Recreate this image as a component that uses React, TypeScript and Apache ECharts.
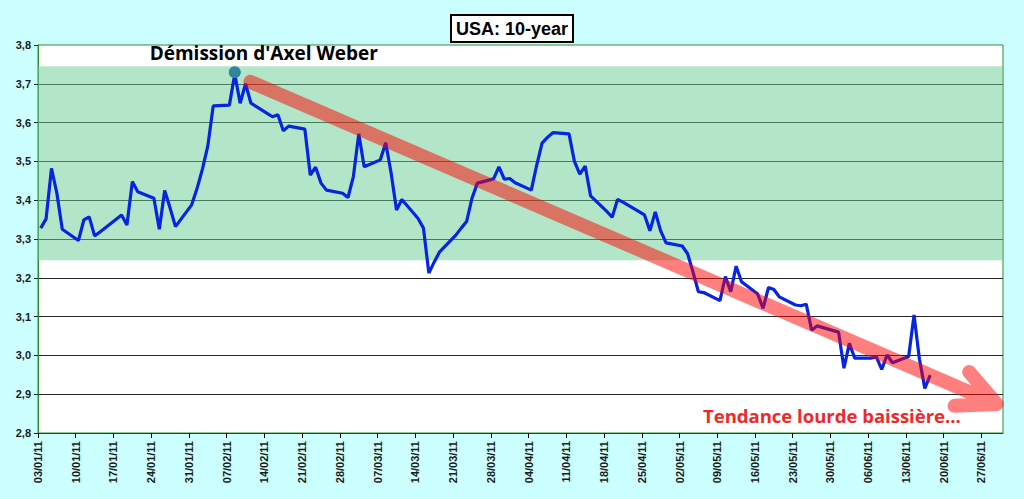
import { useEffect, useRef } from "react";
import * as echarts from "echarts";

// daily US 10-year yields (weekdays), dd/mm/yy
const DATES = [
  "03/01/11", "04/01/11", "05/01/11", "06/01/11", "07/01/11",
  "10/01/11", "11/01/11", "12/01/11", "13/01/11", "14/01/11",
  "18/01/11", "19/01/11", "20/01/11", "21/01/11",
  "24/01/11", "25/01/11", "26/01/11", "27/01/11", "28/01/11",
  "31/01/11", "01/02/11", "02/02/11", "03/02/11", "04/02/11",
  "07/02/11", "08/02/11", "09/02/11", "10/02/11", "11/02/11",
  "14/02/11", "15/02/11", "16/02/11", "17/02/11", "18/02/11",
  "21/02/11", "22/02/11", "23/02/11", "24/02/11", "25/02/11",
  "28/02/11", "01/03/11", "02/03/11", "03/03/11", "04/03/11",
  "07/03/11", "08/03/11", "09/03/11", "10/03/11", "11/03/11",
  "14/03/11", "15/03/11", "16/03/11", "17/03/11", "18/03/11",
  "21/03/11", "22/03/11", "23/03/11", "24/03/11", "25/03/11",
  "28/03/11", "29/03/11", "30/03/11", "31/03/11", "01/04/11",
  "04/04/11", "05/04/11", "06/04/11", "07/04/11", "08/04/11",
  "11/04/11", "12/04/11", "13/04/11", "14/04/11", "15/04/11",
  "18/04/11", "19/04/11", "20/04/11", "21/04/11",
  "25/04/11", "26/04/11", "27/04/11", "28/04/11", "29/04/11",
  "02/05/11", "03/05/11", "04/05/11", "05/05/11", "06/05/11",
  "09/05/11", "10/05/11", "11/05/11", "12/05/11", "13/05/11",
  "16/05/11", "17/05/11", "18/05/11", "19/05/11", "20/05/11",
  "23/05/11", "24/05/11", "25/05/11", "26/05/11", "27/05/11",
  "31/05/11", "01/06/11", "02/06/11", "03/06/11",
  "06/06/11", "07/06/11", "08/06/11", "09/06/11", "10/06/11",
  "13/06/11", "14/06/11", "15/06/11", "16/06/11", "17/06/11",
];

const YIELDS = [
  3.328, 3.352, 3.482, 3.418, 3.325,
  3.296, 3.349, 3.357, 3.308, 3.318,
  3.362, 3.336, 3.448, 3.422,
  3.405, 3.325, 3.425, 3.38, 3.332,
  3.388, 3.43, 3.48, 3.54, 3.643,
  3.645, 3.725, 3.65, 3.70, 3.65,
  3.624, 3.615, 3.62, 3.579, 3.591,
  3.583, 3.465, 3.485, 3.444, 3.426,
  3.418, 3.407, 3.461, 3.571, 3.486,
  3.504, 3.548, 3.47, 3.375, 3.402,
  3.353, 3.328, 3.212, 3.241, 3.267,
  3.31, 3.328, 3.345, 3.405, 3.444,
  3.455, 3.486, 3.454, 3.456, 3.445,
  3.426, 3.49, 3.547, 3.562, 3.574,
  3.571, 3.50, 3.467, 3.488, 3.411,
  3.371, 3.356, 3.402, 3.395,
  3.362, 3.321, 3.37, 3.321, 3.29,
  3.282, 3.262, 3.215, 3.164, 3.162,
  3.141, 3.203, 3.164, 3.23, 3.19,
  3.158, 3.121, 3.175, 3.17, 3.151,
  3.13, 3.128, 3.132, 3.065, 3.076,
  3.06, 2.967, 3.031, 2.993,
  2.993, 2.996, 2.964, 3.001, 2.981,
  2.997, 3.104, 2.99, 2.915, 2.949,
];

// green "range" band
const BAND = [3.245, 3.745];
// Weber event marker
const EVENT_DATE = "08/02/11";
const EVENT_YIELD = 3.73;
const EVENT_TEXT = "Démission d'Axel Weber";
// trend arrow, [day, yield] -> [day, yield]
const ARROW = [39.4, 3.705, 177.8, 2.875];
const TREND_TEXT = "Tendance lourde baissière...";

const T0 = Date.UTC(2011, 0, 3);
const DAY = 86400000;
const pad = (n: number) => String(n).padStart(2, "0");
// x = days since 03/01/11, points sit in the middle of their day
const dayOf = (s: string) => {
  const [d, m, y] = s.split("/").map(Number);
  return (Date.UTC(2000 + y, m - 1, d) - T0) / DAY + 0.5;
};
const fmtDay = (v: number) => {
  const dt = new Date(T0 + Math.round(v) * DAY);
  return `${pad(dt.getUTCDate())}/${pad(dt.getUTCMonth() + 1)}/${pad(dt.getUTCFullYear() % 100)}`;
};

const AXIS_FONT = "'Liberation Sans', Arial, sans-serif";
const GREEN = "#2E8B2E";

export default function App() {
  const ref = useRef<HTMLDivElement>(null);

  useEffect(() => {
    if (!ref.current) return;
    const chart = echarts.init(ref.current, undefined, { renderer: "svg" });

    chart.setOption({
      animation: false,
      backgroundColor: "#CCFFFF",
      title: {
        text: "USA: 10-year",
        left: "center",
        top: 15,
        padding: [4, 5, 3, 5],
        backgroundColor: "#FFFFFF",
        borderColor: "#000000",
        borderWidth: 2,
        textStyle: { fontFamily: AXIS_FONT, fontWeight: "bold", fontSize: 18, color: "#000", lineHeight: 20 },
      },
      grid: {
        left: 38,
        right: 21,
        top: 45,
        bottom: 66,
        show: true,
        backgroundColor: "#FFFFFF",
        borderColor: GREEN,
        borderWidth: 1,
      },
      xAxis: {
        type: "value",
        min: 0,
        max: 179,
        interval: 7,
        axisLine: { lineStyle: { color: "#1D4D1D", width: 1 } },
        axisTick: { show: true, length: 5, lineStyle: { color: "#000" } },
        axisLabel: {
          rotate: 90,
          margin: 8,
          showMaxLabel: false,
          formatter: (v: number) => fmtDay(v),
          fontFamily: AXIS_FONT,
          fontWeight: "bold",
          fontSize: 11,
          color: "#1A1A1A",
        },
        splitLine: { show: false },
      },
      yAxis: {
        type: "value",
        min: 2.8,
        max: 3.8,
        interval: 0.1,
        axisLine: { show: true, lineStyle: { color: GREEN } },
        axisTick: { show: true, length: 4, lineStyle: { color: "#222" } },
        axisLabel: {
          margin: 7,
          formatter: (v: number) => v.toFixed(1).replace(".", ","),
          fontFamily: AXIS_FONT,
          fontWeight: "bold",
          fontSize: 11,
          color: "#1A1A1A",
        },
        splitLine: { show: true, showMaxLine: false, showMinLine: false, lineStyle: { color: "#262626", width: 1 } },
      },
      series: [
        {
          type: "line",
          z: 1,
          data: [],
          silent: true,
          markArea: {
            silent: true,
            itemStyle: { color: "rgba(103, 205, 145, 0.5)" },
            data: [[{ yAxis: BAND[0] }, { yAxis: BAND[1] }]],
          },
        },
        {
          type: "line",
          z: 3,
          data: DATES.map((d, i) => [dayOf(d), YIELDS[i]]),
          showSymbol: false,
          lineStyle: { color: "#0525E0", width: 3.2 },
        },
        {
          type: "scatter",
          z: 4,
          data: [[dayOf(EVENT_DATE), EVENT_YIELD]],
          symbolSize: 12,
          itemStyle: { color: "#31859C", opacity: 1 },
          label: {
            show: true,
            position: "top",
            distance: 4,
            offset: [29, 0],
            formatter: EVENT_TEXT,
            fontFamily: "'Open Sans', sans-serif",
            fontWeight: "bold",
            fontSize: 19,
            color: "#000",
            opacity: 1,
          },
        },
        {
          type: "custom",
          z: 5,
          clip: false,
          encode: { x: [0, 2], y: [1, 3] },
          data: [ARROW],
          renderItem: (_params: unknown, api: any) => {
            const a = api.coord([api.value(0), api.value(1)]);
            const b = api.coord([api.value(2), api.value(3)]);
            const ang = Math.atan2(a[1] - b[1], a[0] - b[0]);
            const len = 42;
            const spread = (26 * Math.PI) / 180;
            const u = [b[0] + len * Math.cos(ang + spread), b[1] + len * Math.sin(ang + spread)];
            const l = [b[0] + len * Math.cos(ang - spread), b[1] + len * Math.sin(ang - spread)];
            const d = `M${a[0]} ${a[1]}L${b[0]} ${b[1]}M${u[0]} ${u[1]}L${b[0]} ${b[1]}L${l[0]} ${l[1]}`;
            return {
              type: "path",
              shape: { pathData: d },
              style: {
                fill: "none",
                stroke: "rgba(255, 0, 0, 0.5)",
                lineWidth: 14,
                lineCap: "round",
                lineJoin: "round",
              },
            };
          },
        },
      ],
      graphic: [
        {
          type: "text",
          left: 703,
          top: 406,
          z: 10,
          style: {
            text: TREND_TEXT,
            fill: "#F02828",
            font: "bold 18.5px 'Open Sans', sans-serif",
          },
        },
      ],
    });

    return () => chart.dispose();
  }, []);

  return <div ref={ref} style={{ position: "fixed", left: 0, top: 0, width: 1024, height: 499 }} />;
}
